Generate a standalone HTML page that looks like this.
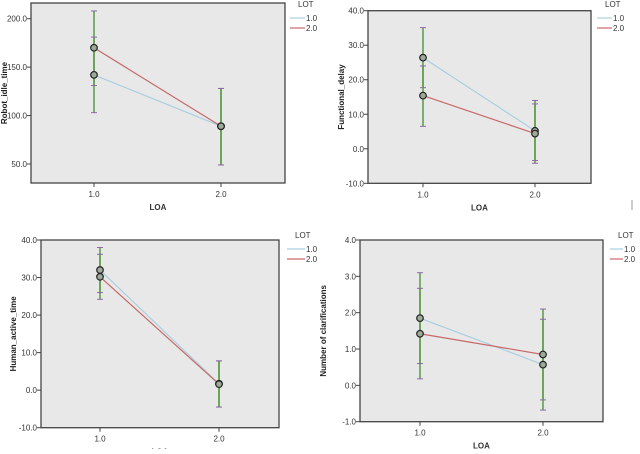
<!DOCTYPE html>
<html><head><meta charset="utf-8"><style>
body{margin:0;background:#fff;width:640px;height:449px;overflow:hidden}
svg text{font-family:"Liberation Sans",sans-serif}
</style></head><body>
<svg id="s" width="640" height="449">
<line x1="632" y1="200" x2="632" y2="210" stroke="#999"/>
</svg>
<script>
const NS="http://www.w3.org/2000/svg";
const svg=document.getElementById('s');
const categories=["1.0","2.0"];
const seriesNames=["1.0","2.0"];
// panel 1
const p1Ticks=[50,100,150,200];
const p1Lot1=[142,89];const p1Lot2=[170,89];
const p1Lo1=[103,49];const p1Hi1=[208,128];const p1Lo2=[131,49];const p1Hi2=[181,128];
// panel 2
const p2Ticks=[-10,0,10,20,30,40];
const p2Lot1=[26.4,5.2];const p2Lot2=[15.4,4.4];
const p2Lo1=[17.7,-4.2];const p2Hi1=[35.1,14];const p2Lo2=[6.5,-3.4];const p2Hi2=[24,13];
// panel 3
const p3Ticks=[-10,0,10,20,30,40];
const p3Lot1=[32,1.7];const p3Lot2=[30.2,1.6];
const p3Lo1=[24.2,-4.5];const p3Hi1=[38,7.8];const p3Lo2=[26,-4.5];const p3Hi2=[36.2,7.8];
// panel 4
const p4Ticks=[-1,0,1,2,3,4];
const p4Lot1=[1.85,0.57];const p4Lot2=[1.42,0.85];
const p4Lo1=[0.18,-0.68];const p4Hi1=[3.1,2.1];const p4Lo2=[0.6,-0.4];const p4Hi2=[2.67,1.82];

function el(t,a,p){const e=document.createElementNS(NS,t);for(const k in a)e.setAttribute(k,a[k]);(p||svg).appendChild(e);return e;}
function panel(cfg){
  const g=el('g',{});
  
  
  const {x0,x1,y0,y1,vTop,vBot,yTop,yBot,cx}=cfg;
  const ys=v=>yBot+(v-vBot)*(yTop-yBot)/(vTop-vBot);
  const xs=i=>cx[i];
  const bg=el('rect',{x:x0,y:y0,width:x1-x0,height:y1-y0,fill:'#e8e8e8',stroke:'#444','stroke-width':1.3},g);
  
  cfg.ticks.forEach(t=>{
    const y=ys(t);
    el('line',{x1:x0-4,x2:x0,y1:y,y2:y,stroke:'#444'},g);
    const tx=el('text',{x:x0-4,y:y+3,'font-size':8,'text-anchor':'end',fill:'#333'},g);
    tx.textContent=t.toFixed(1);
    
  });
  categories.forEach((c,i)=>{
    el('line',{x1:xs(i),x2:xs(i),y1:y1,y2:y1+4,stroke:'#444'},g);
    const tx=el('text',{x:xs(i),y:y1+14,'font-size':8,'text-anchor':'middle',fill:'#333'},g);
    tx.textContent=c;
    
  });
  const xl=el('text',{x:(x0+x1)/2,y:y1+27,'font-size':8,'font-weight':'bold','text-anchor':'middle',fill:'#333'},g);
  xl.textContent='LOA';
  const yl=el('text',{x:0,y:0,'font-size':8,'font-weight':'bold','text-anchor':'middle',fill:'#222',transform:`translate(${cfg.ylx},${(y0+y1)/2}) rotate(-90)`},g);
  yl.textContent=cfg.ytitle;
  // error bars
  [[cfg.lo1,cfg.hi1],[cfg.lo2,cfg.hi2]].forEach(([lo,hi])=>{
    categories.forEach((c,i)=>{
      const b=el('line',{x1:xs(i),x2:xs(i),y1:ys(lo[i]),y2:ys(hi[i]),stroke:'#5a9a46','stroke-width':1.5},g);
      
      [lo[i],hi[i]].forEach(v=>el('line',{x1:xs(i)-3,x2:xs(i)+3,y1:ys(v),y2:ys(v),stroke:'#8e6aa8','stroke-width':1},g));
    });
  });
  const cols=['#a9cfe0','#c9686a'];
  [cfg.s1,cfg.s2].forEach((s,k)=>{
    const l=el('polyline',{points:s.map((v,i)=>xs(i)+','+ys(v)).join(' '),fill:'none',stroke:cols[k],'stroke-width':1.2},g);
    
  });
  [cfg.s1,cfg.s2].forEach((s,k)=>{
    s.forEach((v,i)=>{
      const c=el('circle',{cx:xs(i),cy:ys(v),r:3.3,fill:'#9cab98',stroke:'#222','stroke-width':1.2},g);
      
    });
  });
  const L=cfg.leg;
  const lt=el('text',{x:L.x+8,y:L.y,'font-size':8,fill:'#333'},g);lt.textContent='LOT';
  
  seriesNames.forEach((n,k)=>{
    const yy=L.y+11+k*10;
    el('line',{x1:L.x,x2:L.x+L.w,y1:yy,y2:yy,stroke:cols[k],'stroke-width':1.2},g);
    const t=el('text',{x:L.x+L.w+1,y:yy+3,'font-size':8,fill:'#333'},g);t.textContent=n;
    
  });
}
panel({name:'robot-idle-time-panel',x0:31,x1:285,y0:3,y1:183,vTop:200,vBot:50,yTop:18.7,yBot:164,cx:[94,221],ticks:p1Ticks,
 s1:p1Lot1,s2:p1Lot2,lo1:p1Lo1,hi1:p1Hi1,lo2:p1Lo2,hi2:p1Hi2,ytitle:'Robot_idle_time',ylx:7,leg:{x:290,y:7,w:15}});
panel({name:'functional-delay-panel',x0:368,x1:591,y0:10.7,y1:183.3,vTop:40,vBot:-10,yTop:10.7,yBot:183.3,cx:[423,535],ticks:p2Ticks,
 s1:p2Lot1,s2:p2Lot2,lo1:p2Lo1,hi1:p2Hi1,lo2:p2Lo2,hi2:p2Hi2,ytitle:'Functional_delay',ylx:344,leg:{x:597,y:7,w:15}});
panel({name:'human-active-time-panel',x0:41,x1:279,y0:240,y1:427.7,vTop:40,vBot:-10,yTop:240,yBot:427.7,cx:[100,219],ticks:p3Ticks,
 s1:p3Lot1,s2:p3Lot2,lo1:p3Lo1,hi1:p3Hi1,lo2:p3Lo2,hi2:p3Hi2,ytitle:'Human_active_time',ylx:16,leg:{x:287,y:238,w:18}});
panel({name:'number-of-clarifications-panel',x0:360,x1:603,y0:240,y1:421.7,vTop:4,vBot:-1,yTop:240,yBot:421.7,cx:[420,543],ticks:p4Ticks,
 s1:p4Lot1,s2:p4Lot2,lo1:p4Lo1,hi1:p4Hi1,lo2:p4Lo2,hi2:p4Hi2,ytitle:'Number of clarifications',ylx:326,leg:{x:610,y:238,w:13}});
</script>
</body></html>
